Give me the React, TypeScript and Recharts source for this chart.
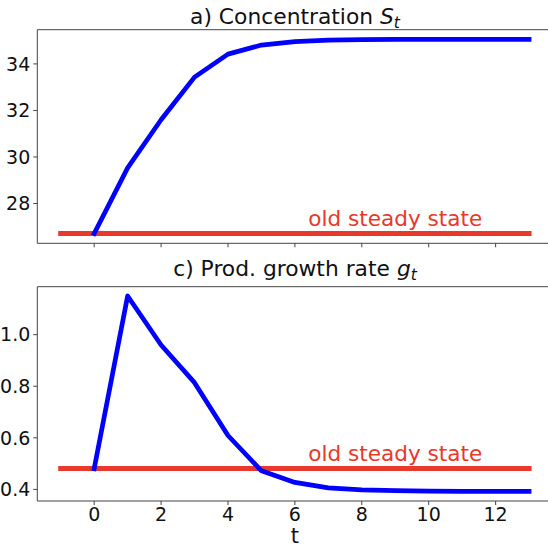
import React from 'react';
import { LineChart, Line, XAxis, YAxis, ReferenceDot, ReferenceLine, Customized } from 'recharts';

const tValues = [-1, 0, 1, 2, 3, 4, 5, 6, 7, 8, 9, 10, 11, 12, 13];
const concentration = [null, 26.71, 29.53, 31.6, 33.43, 34.42, 34.81, 34.96, 35.02, 35.04, 35.05, 35.05, 35.05, 35.05, 35.05];
const growthRate = [null, 0.48, 1.15, 0.96, 0.814, 0.609, 0.472, 0.427, 0.406, 0.398, 0.395, 0.393, 0.392, 0.392, 0.392];
const oldSteadyConcentration = 26.71;
const oldSteadyGrowth = 0.481;
const xTicks = [0, 2, 4, 6, 8, 10, 12];
const topYTicks = [28, 30, 32, 34];
const bottomYTicks = [0.4, 0.6, 0.8, 1.0];
const steadyLabel = 'old steady state';
const steadyLabelT = 9;

const topDomain: [number, number] = [26.29, 35.47];
const bottomDomain: [number, number] = [0.355, 1.186];
const xDomain: [number, number] = [-1.7, 13.7];

const topData = tValues.map((t, i) => ({ t, s: concentration[i], old: oldSteadyConcentration }));
const bottomData = tValues.map((t, i) => ({ t, g: growthRate[i], old: oldSteadyGrowth }));

const FONT = 'DejaVu Sans';
const BLUE = '#0000ff';
const RED = '#e8392b';
const SPINE = '#444';

const tickStyle = { fill: '#111', fontSize: 19, fontFamily: FONT };

const Title = ({ y, main, sym }: { y: number; main: string; sym: string }) => (
  <text x={295} y={y} textAnchor="middle" fontFamily={FONT} fontSize={21.8} fill="#111">
    {main}
    <tspan fontStyle="italic">{sym}</tspan>
    <tspan fontStyle="italic" fontSize={15.5} dy={4}>t</tspan>
  </text>
);

const steadyShape = (p: any) => (
  <text x={p.cx} y={p.cy - 7.5} textAnchor="middle" fontFamily={FONT} fontSize={21.6} fill={RED}>
    {steadyLabel}
  </text>
);

export default function App() {
  return (
    <div style={{ position: 'absolute', left: 0, top: 0, width: 548, height: 544, overflow: 'hidden', background: '#fff' }}>
      <LineChart width={560} height={250} data={topData} margin={{ top: 29.7, right: 7.5, bottom: 0, left: 0 }} style={{ display: 'block' }}>
        <XAxis
          dataKey="t"
          type="number"
          domain={xDomain}
          ticks={xTicks}
          allowDataOverflow
          height={6.7}
          tickSize={4}
          tickMargin={1}
          tickFormatter={() => ''}
          stroke={SPINE}
        />
        <YAxis
          type="number"
          domain={topDomain}
          ticks={topYTicks}
          allowDataOverflow
          width={37.3}
          tickSize={4}
          tickMargin={3}
          tick={tickStyle}
          stroke={SPINE}
        />
        <ReferenceLine y={topDomain[1]} stroke={SPINE} strokeWidth={1} ifOverflow="visible" />
        <Line dataKey="old" stroke={RED} strokeWidth={5} dot={false} isAnimationActive={false} strokeLinecap="square" />
        <Line dataKey="s" stroke={BLUE} strokeWidth={4.7} dot={false} isAnimationActive={false} strokeLinecap="square" strokeLinejoin="round" />
        <ReferenceDot x={steadyLabelT} y={oldSteadyConcentration} r={0} shape={steadyShape} ifOverflow="visible" />
        <Customized component={() => <Title y={24.3} main="a) Concentration " sym="S" />} />
      </LineChart>
      <LineChart width={560} height={294} data={bottomData} margin={{ top: 36.7, right: 7.5, bottom: 0, left: 0 }} style={{ display: 'block' }}>
        <XAxis
          dataKey="t"
          type="number"
          domain={xDomain}
          ticks={xTicks}
          allowDataOverflow
          height={43}
          tickSize={4}
          tickMargin={3}
          tick={tickStyle}
          stroke={SPINE}
          label={{ value: 't', position: 'insideBottom', offset: 1, fontSize: 21, fontFamily: FONT, fill: '#111' }}
        />
        <YAxis
          type="number"
          domain={bottomDomain}
          ticks={bottomYTicks}
          allowDataOverflow
          width={37.3}
          tickSize={4}
          tickMargin={3}
          tick={tickStyle}
          tickFormatter={(v: number) => v.toFixed(1)}
          stroke={SPINE}
        />
        <ReferenceLine y={bottomDomain[1]} stroke={SPINE} strokeWidth={1} ifOverflow="visible" />
        <Line dataKey="old" stroke={RED} strokeWidth={5} dot={false} isAnimationActive={false} strokeLinecap="square" />
        <Line dataKey="g" stroke={BLUE} strokeWidth={4.7} dot={false} isAnimationActive={false} strokeLinecap="square" strokeLinejoin="round" />
        <ReferenceDot x={steadyLabelT} y={oldSteadyGrowth} r={0} shape={steadyShape} ifOverflow="visible" />
        <Customized component={() => <Title y={26} main="c) Prod. growth rate " sym="g" />} />
      </LineChart>
    </div>
  );
}
